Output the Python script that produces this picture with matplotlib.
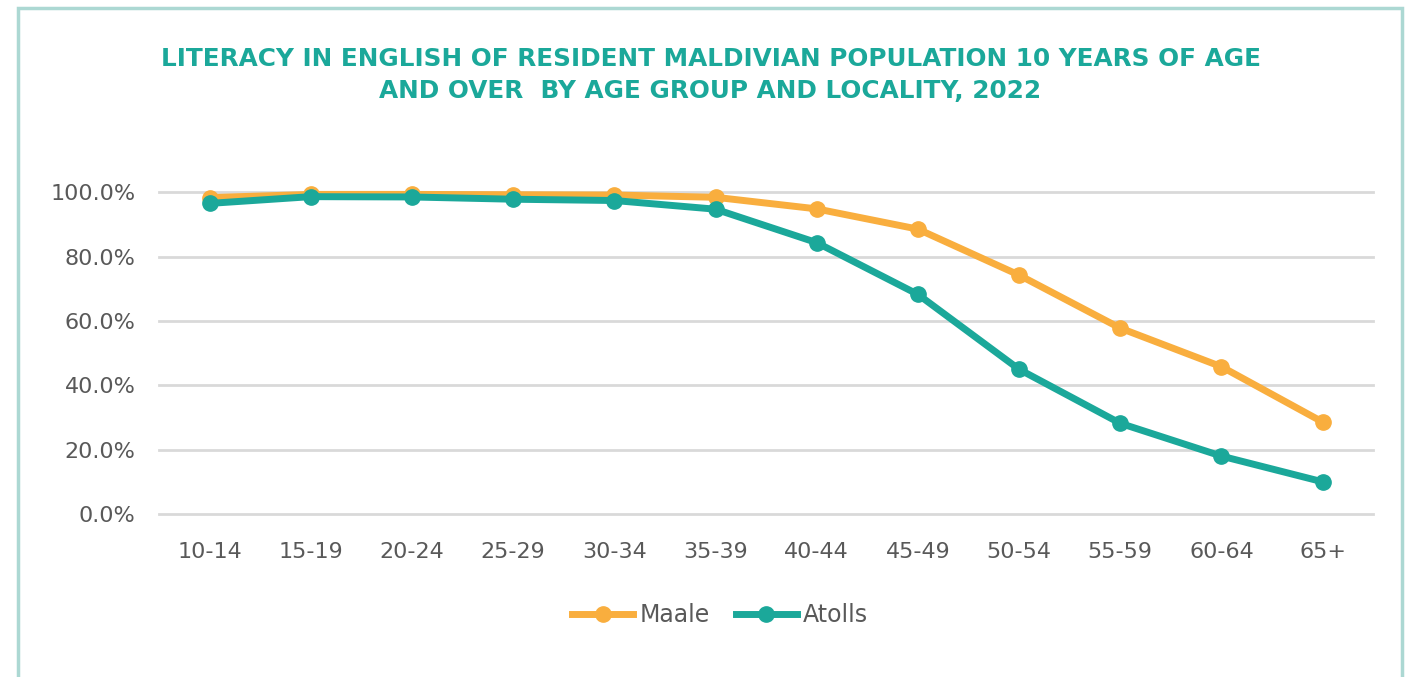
import matplotlib.pyplot as plt
from matplotlib.patches import Rectangle
from matplotlib.ticker import FuncFormatter

age_groups = ['10-14', '15-19', '20-24', '25-29', '30-34', '35-39',
              '40-44', '45-49', '50-54', '55-59', '60-64', '65+']
maale = [98.4, 99.4, 99.4, 99.3, 99.2, 98.5, 94.9, 88.6, 74.3, 57.8, 45.8, 28.6]
atolls = [96.6, 98.7, 98.6, 97.9, 97.5, 94.8, 84.4, 68.3, 45.0, 28.2, 18.0, 10.0]

ORANGE = '#F9AE3E'
TEAL = '#1BA89A'
GREY = '#595959'

fig = plt.figure(figsize=(14.07, 6.77), dpi=100)
ax = fig.add_axes([0.113, 0.2408, 0.863, 0.4749])

x = range(len(age_groups))
ax.plot(x, maale, color=ORANGE, lw=5, marker='o', ms=11, label='Maale',
        clip_on=False, zorder=3)
ax.plot(x, atolls, color=TEAL, lw=5, marker='o', ms=11, label='Atolls',
        clip_on=False, zorder=4)

ax.set_xlim(-0.5, len(age_groups) - 0.5)
ax.set_ylim(0, 100)
ax.set_yticks([0, 20, 40, 60, 80, 100])
ax.yaxis.set_major_formatter(FuncFormatter(lambda v, p: f'{v:.1f}%'))
ax.set_xticks(list(x))
ax.set_xticklabels(age_groups)
ax.tick_params(length=0, labelsize=16, labelcolor=GREY)
ax.tick_params(axis='y', pad=17)
ax.tick_params(axis='x', pad=20)
ax.grid(axis='y', color='#D9D9D9', lw=2)
for gl in ax.get_ygridlines():
    gl.set_clip_on(False)
ax.set_axisbelow(True)
for s in ax.spines.values():
    s.set_visible(False)

# legend sits a little left of the plot centre, as in the source
ax.legend(loc='center', bbox_to_anchor=(0.462, (1 - 615 / 677 - 0.2408) / 0.4749),
          ncol=2, frameon=False, fontsize=17, labelcolor=GREY,
          handlelength=2.6, handletextpad=0.25, columnspacing=1.1)

fig.text(0.505, 1 - 59 / 677, 'LITERACY IN ENGLISH OF RESIDENT MALDIVIAN POPULATION 10 YEARS OF AGE',
         ha='center', va='center', color=TEAL, fontsize=17.8, fontweight='bold')
fig.text(0.505, 1 - 91 / 677, 'AND OVER  BY AGE GROUP AND LOCALITY, 2022',
         ha='center', va='center', color=TEAL, fontsize=17.8, fontweight='bold')

# light teal frame, open at the bottom
fig.patches.append(Rectangle((17.5 / 1407, -0.1), (1401.5 - 17.5) / 1407, 1.1 - 7.5 / 677,
                             transform=fig.transFigure, fill=False,
                             edgecolor='#ACD8D3', lw=2.5))

plt.savefig('out.png', dpi=100)
